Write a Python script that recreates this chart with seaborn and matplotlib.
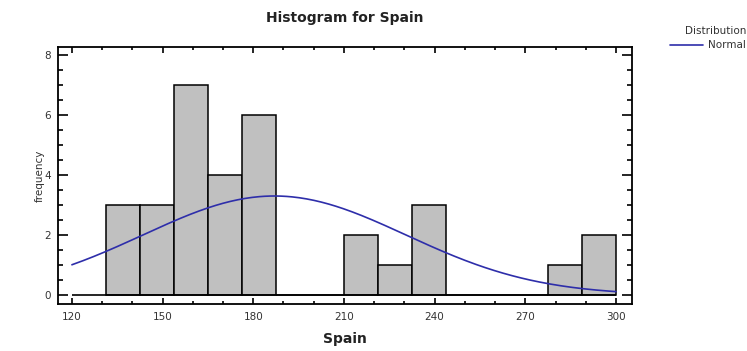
import numpy as np
import pandas as pd
import matplotlib
matplotlib.use("Agg")
import matplotlib.pyplot as plt
from matplotlib.ticker import MultipleLocator
import seaborn as sns

# Histogram classes and counts
bin_edges = [131.25, 142.5, 153.75, 165.0, 176.25, 187.5, 198.75, 210.0,
             221.25, 232.5, 243.75, 255.0, 266.25, 277.5, 288.75, 300.0]
counts = [3, 3, 7, 4, 6, 0, 0, 2, 1, 3, 0, 0, 0, 1, 2]

# Fitted normal distribution
fit_mean = 187.0
fit_sd = 43.5
curve_range = [120.0, 300.0]

x_ticks = [120, 150, 180, 210, 240, 270, 300]
y_ticks = [0, 2, 4, 6, 8]

sns.set_theme(style="white")
plt.rcParams["font.family"] = ["DejaVu Sans"]

centers = [(a + b) / 2 for a, b in zip(bin_edges[:-1], bin_edges[1:])]
df = pd.DataFrame({"Spain": centers, "count": counts})

fig = plt.figure(figsize=(7.47, 3.51), dpi=100)
ax = fig.add_axes([58 / 747, 1 - 304 / 351, (632 - 58) / 747, (304 - 47) / 351])

sns.histplot(data=df, x="Spain", weights="count", bins=bin_edges,
             color="#c0c0c0", edgecolor="black", linewidth=1.1, alpha=1.0, ax=ax)

# Normal curve scaled to the histogram (n * bin width * pdf)
n_obs = sum(counts)
bin_width = bin_edges[1] - bin_edges[0]
xs = np.linspace(curve_range[0], curve_range[1], 300)
ys = n_obs * bin_width * np.exp(-0.5 * ((xs - fit_mean) / fit_sd) ** 2) / (fit_sd * np.sqrt(2 * np.pi))
sns.lineplot(x=xs, y=ys, color="#2e2eaa", linewidth=1.2, ax=ax, label="Normal")

ax.hlines(0, curve_range[0], curve_range[1], color="black", linewidth=1.2, zorder=3)

ax.set_xlim(115.4, 305.3)
ax.set_ylim(-0.3, 8.27)
ax.set_xticks(x_ticks)
ax.set_yticks(y_ticks)
ax.xaxis.set_minor_locator(MultipleLocator(10))
ax.yaxis.set_minor_locator(MultipleLocator(0.5))

for side in ax.spines.values():
    side.set_visible(True)
    side.set_color("black")
    side.set_linewidth(1.3)

ax.tick_params(axis="both", which="both", direction="in",
               bottom=True, left=True, top=True, right=True,
               color="black", width=1.2, labelsize=7.5, labelcolor="#333333")
ax.tick_params(axis="x", which="major", length=4, pad=6)
ax.tick_params(axis="x", which="minor", length=2.5)
ax.tick_params(axis="y", which="major", length=7.5, pad=5)
ax.tick_params(axis="y", which="minor", length=3.5)

ax.set_xlabel("Spain", fontsize=10, fontweight="bold", color="#222222", labelpad=7)
ax.set_ylabel("frequency", fontsize=7.5, color="#333333", labelpad=0)
ax.set_title("Histogram for Spain", fontsize=10, fontweight="bold", color="#222222", pad=18)

leg = ax.legend(loc="upper right", bbox_to_anchor=(1.0, 1 - 25 / 351),
                bbox_transform=fig.transFigure, frameon=False,
                title="Distribution", fontsize=7.5, title_fontsize=7.5,
                handlelength=3.2, handletextpad=0.5, borderpad=0.1,
                borderaxespad=0.0, labelspacing=0.2)
leg._legend_box.align = "right"
leg._legend_box.sep = 3
for t in leg.get_texts():
    t.set_color("#333333")
leg.get_title().set_color("#333333")

fig.savefig("out.png", dpi=100, facecolor="white")
